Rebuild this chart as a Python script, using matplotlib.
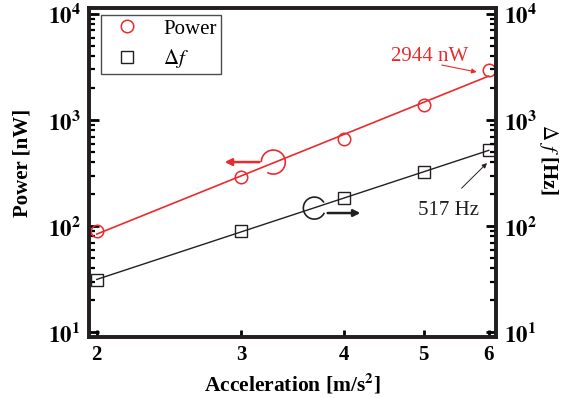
import numpy as np
import matplotlib
matplotlib.use("Agg")
import matplotlib.pyplot as plt
from matplotlib import ticker, transforms
from matplotlib.patches import Arc

# data
accel = [2, 3, 4, 5, 6]                     # m/s^2
power_nw = [90, 290, 660, 1390, 2944]       # nW
delta_f_hz = [31, 91, 184, 323, 517]        # Hz
x_ticks = [2, 3, 4, 5, 6]

RED = "#ec2a2e"
BLACK = "#231f20"
FS = 15

plt.rcParams["font.family"] = ["Liberation Serif", "DejaVu Serif"]
plt.rcParams["mathtext.fontset"] = "stix"


def power_fit(x, y, xs):
    """log-log straight line fit"""
    p = np.polyfit(np.log10(x), np.log10(y), 1)
    return 10 ** np.polyval(p, np.log10(xs))


def decade_label(v, pos):
    return r"$\mathbf{10^{%d}}$" % int(round(np.log10(v)))


def ring(ax, fig, xy, radius_px, theta1, theta2, color):
    """open circle drawn in pixels around a data point"""
    trans = fig.dpi_scale_trans + transforms.ScaledTranslation(xy[0], xy[1], ax.transData)
    d = 2 * radius_px / fig.dpi
    ax.add_patch(Arc((0, 0), d, d, theta1=theta1, theta2=theta2,
                     transform=trans, color=color, lw=1.2, clip_on=False))


fig = plt.figure(figsize=(5.66, 3.98), dpi=100)
ax = fig.add_axes([0.157, 0.153, 0.719, 0.827])
ax2 = ax.twinx()

ylim = (9.0, 1.14e4)
xlim = (1.956, 6.12)

xs = np.linspace(accel[0], accel[-1], 60)
ax.plot(xs, power_fit(accel, power_nw, xs), color=RED, lw=1.2)
ax.plot(accel, power_nw, "o", mfc="none", mec=RED, ms=9, mew=1.1, label="Power")
ax.plot(xs, power_fit(accel, delta_f_hz, xs), color=BLACK, lw=1.0)
ax.plot(accel, delta_f_hz, "s", mfc="none", mec=BLACK, ms=8.5, mew=1.0,
        label=r"$\mathit{\Delta f}$")

for a in (ax, ax2):
    a.set_xscale("log")
    a.set_yscale("log")
    a.set_ylim(*ylim)
    a.set_xlim(*xlim)
    a.yaxis.set_major_locator(ticker.LogLocator(base=10))
    a.yaxis.set_minor_locator(ticker.LogLocator(base=10, subs=np.arange(2, 10)))
    a.yaxis.set_major_formatter(ticker.FuncFormatter(decade_label))
    a.yaxis.set_minor_formatter(ticker.NullFormatter())
    a.tick_params(which="major", direction="in", length=7, width=2, labelsize=16.5, pad=6)
    a.tick_params(which="minor", direction="in", length=4, width=1.6)

ax.xaxis.set_major_locator(ticker.FixedLocator(x_ticks))
ax.xaxis.set_major_formatter(ticker.FixedFormatter([str(v) for v in x_ticks]))
ax.xaxis.set_minor_locator(ticker.NullLocator())
ax.tick_params(axis="x", which="major", length=5, width=2, top=False, labelsize=FS, pad=6)
ax.tick_params(axis="y", which="both", right=False)
for lab in ax.get_xticklabels():
    lab.set_fontweight("bold")

for a in (ax, ax2):
    for s in a.spines.values():
        s.set_linewidth(2.6)
        s.set_color(BLACK)

ax.set_xlabel(r"Acceleration [m/s$^\mathbf{2}$]", fontsize=15.5, fontweight="bold", labelpad=4)
ax.set_ylabel("Power [nW]", fontsize=FS, fontweight="bold", va="center")
ax.yaxis.set_label_coords(-0.163, 0.529)
ax2.set_ylabel(r"$\mathit{\Delta}$ $\mathit{f}$ [Hz]", fontsize=FS, fontweight="bold",
               rotation=-90, va="center")
ax2.yaxis.set_label_coords(1.130, 0.538)

leg = ax.legend(loc="upper left", bbox_to_anchor=(0.029, 0.979), borderaxespad=0,
                fontsize=FS, frameon=True, fancybox=False, edgecolor=BLACK,
                handlelength=2.1, handletextpad=0.7, borderpad=0.2, labelspacing=0.4)
leg.get_frame().set_linewidth(1.0)

# which curve goes with which axis
ring(ax, fig, (3.28, 402), 12, 240, 180, RED)
ax.annotate("", xy=(2.84, 402), xytext=(3.18, 402),
            arrowprops=dict(arrowstyle="-|>", color=RED, lw=1.8, mutation_scale=10))
ring(ax, fig, (3.68, 148), 11, 30, 335, BLACK)
ax.annotate("", xy=(4.22, 133), xytext=(3.79, 133),
            arrowprops=dict(arrowstyle="-|>", color=BLACK, lw=1.8, mutation_scale=10))

# end point labels
ax.text(5.09, 4018, "2944 nW", color=RED, fontsize=FS, ha="center", va="center")
ax.annotate("", xy=(5.80, 2838), xytext=(5.26, 3304),
            arrowprops=dict(arrowstyle="-|>", color=RED, lw=0.8, mutation_scale=7,
                            shrinkA=0, shrinkB=0))
ax.text(5.36, 139, "517 Hz", color=BLACK, fontsize=FS, ha="center", va="center")
ax.annotate("", xy=(5.97, 393), xytext=(5.56, 228),
            arrowprops=dict(arrowstyle="-|>", color=BLACK, lw=0.7, mutation_scale=7,
                            shrinkA=0, shrinkB=0))

fig.savefig("out.png", dpi=100)
